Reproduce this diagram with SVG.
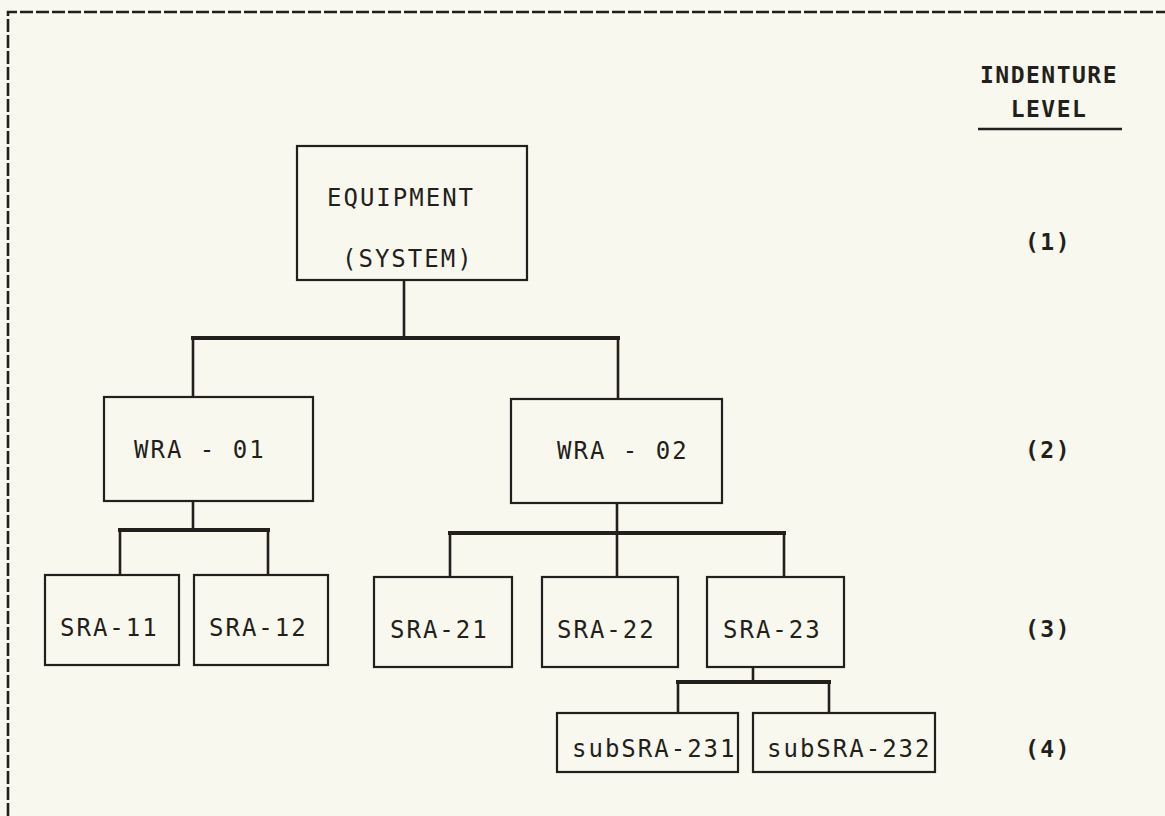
<svg xmlns="http://www.w3.org/2000/svg" width="1165" height="816" viewBox="0 0 1165 816">
  <style>
    .bg { fill: #f9f8ee; }
    .box { fill: none; stroke: #231f1c; stroke-width: 2.2; }
    .lbl { font-family: "DejaVu Sans Mono", "Liberation Mono", monospace; font-size: 24px; letter-spacing: 2px; fill: #231f1c; }
    .lvl { font-family: "DejaVu Sans Mono", "Liberation Mono", monospace; font-size: 23px; font-weight: bold; letter-spacing: 1.5px; fill: #231f1c; text-anchor: middle; }
    .vline { stroke: #231f1c; stroke-width: 2.6; fill: none; }
    .hbus { stroke: #231f1c; stroke-width: 4; fill: none; stroke-linecap: square; }
    .border { stroke: #231f1c; stroke-width: 2.6; fill: none; stroke-dasharray: 13 3; }
  </style>
  <rect class="bg" x="0" y="0" width="1165" height="816"/>
  <g id="frame">
    <path class="border" d="M8,816 V12 H1165"/>
  </g>
  <g id="connectors">
    <path class="vline" d="M404,280 V338"/>
    <path class="hbus" d="M193,338 H618"/>
    <path class="vline" d="M193,338 V397 M618,338 V399"/>
    <path class="vline" d="M193,501 V530"/>
    <path class="hbus" d="M120,530 H268"/>
    <path class="vline" d="M120,530 V575 M268,530 V575"/>
    <path class="vline" d="M617,503 V533"/>
    <path class="hbus" d="M450,533 H784"/>
    <path class="vline" d="M450,533 V577 M617,533 V577 M784,533 V577"/>
    <path class="vline" d="M753,667 V682"/>
    <path class="hbus" d="M678,682 H829"/>
    <path class="vline" d="M678,682 V713 M829,682 V713"/>
  </g>
  <g id="equipment">
    <rect class="box" x="297" y="146" width="230" height="134"/>
    <text class="lbl" x="327" y="206">EQUIPMENT</text>
    <text class="lbl" x="342" y="267">(SYSTEM)</text>
  </g>
  <g id="wra-01">
    <rect class="box" x="104" y="397" width="209" height="104"/>
    <text class="lbl" x="134" y="458">WRA - 01</text>
  </g>
  <g id="wra-02">
    <rect class="box" x="511" y="399" width="211" height="104"/>
    <text class="lbl" x="557" y="459">WRA - 02</text>
  </g>
  <g id="sra-11">
    <rect class="box" x="45" y="575" width="134" height="90"/>
    <text class="lbl" x="60" y="636">SRA-11</text>
  </g>
  <g id="sra-12">
    <rect class="box" x="194" y="575" width="134" height="90"/>
    <text class="lbl" x="209" y="636">SRA-12</text>
  </g>
  <g id="sra-21">
    <rect class="box" x="374" y="577" width="138" height="90"/>
    <text class="lbl" x="390" y="638">SRA-21</text>
  </g>
  <g id="sra-22">
    <rect class="box" x="542" y="577" width="136" height="90"/>
    <text class="lbl" x="557" y="638">SRA-22</text>
  </g>
  <g id="sra-23">
    <rect class="box" x="707" y="577" width="137" height="90"/>
    <text class="lbl" x="723" y="638">SRA-23</text>
  </g>
  <g id="subsra-231">
    <rect class="box" x="557" y="713" width="181" height="59"/>
    <text class="lbl" x="572" y="757">subSRA-231</text>
  </g>
  <g id="subsra-232">
    <rect class="box" x="753" y="713" width="182" height="59"/>
    <text class="lbl" x="767" y="757">subSRA-232</text>
  </g>
  <g id="indenture-levels">
    <text class="lvl" x="1049" y="83">INDENTURE</text>
    <text class="lvl" x="1049" y="117">LEVEL</text>
    <line x1="978" y1="129" x2="1122" y2="129" stroke="#231f1c" stroke-width="2.6"/>
    <text class="lvl" x="1048" y="250">(1)</text>
    <text class="lvl" x="1048" y="458">(2)</text>
    <text class="lvl" x="1048" y="637">(3)</text>
    <text class="lvl" x="1048" y="757">(4)</text>
  </g>
</svg>
